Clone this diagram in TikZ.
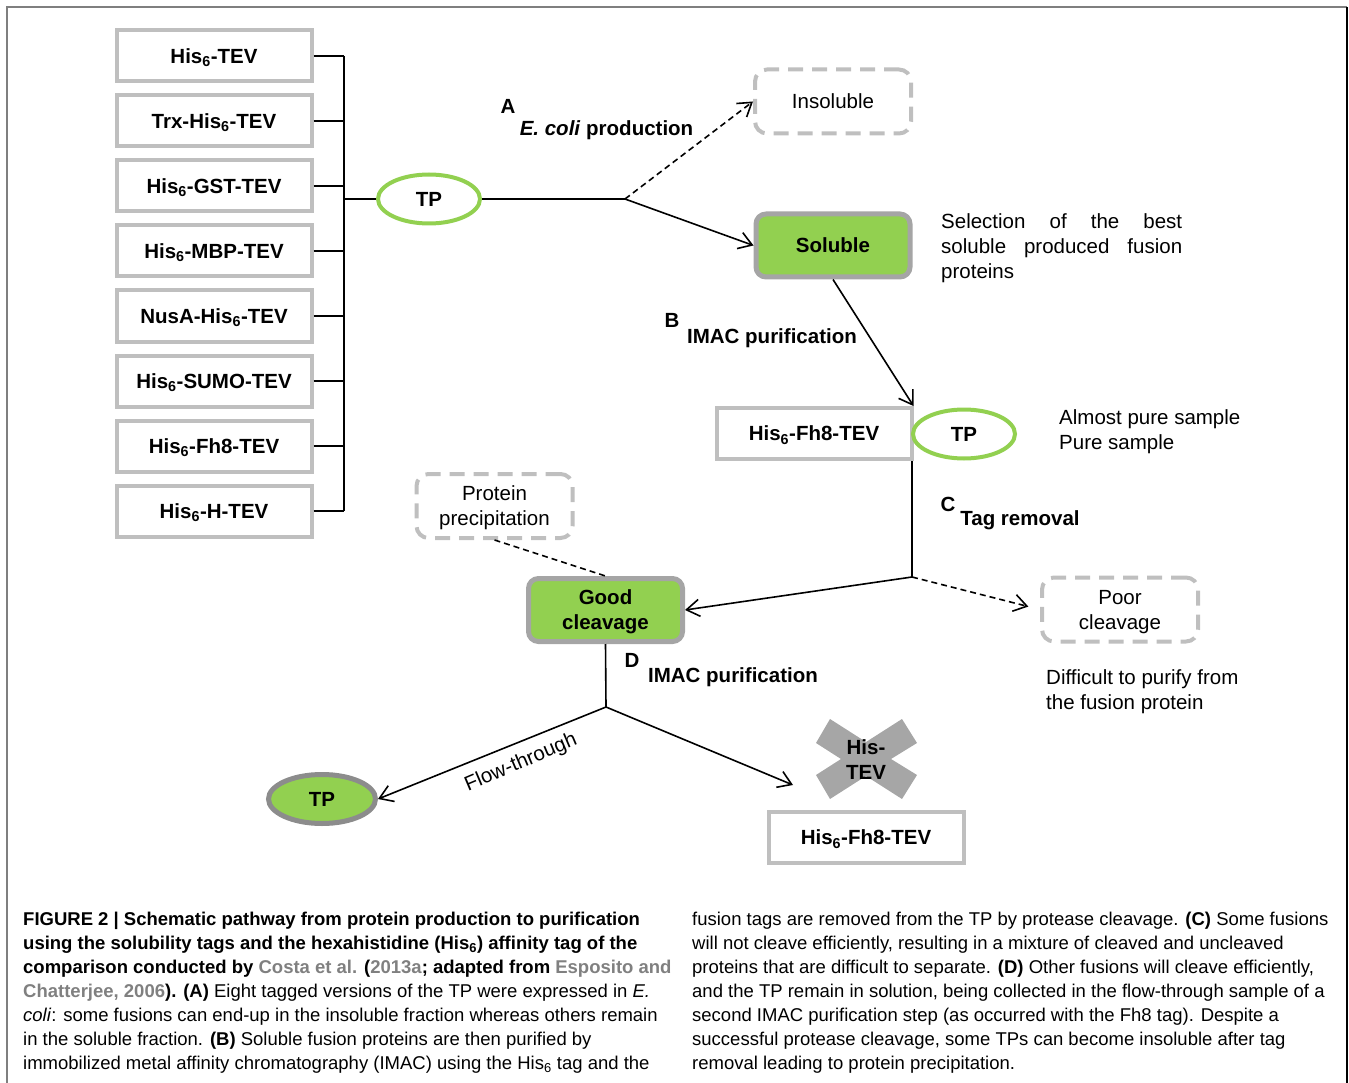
\documentclass[tikz,border=0pt]{standalone}
\usepackage{fontspec}
\setmainfont{Liberation Sans}
\newfontfamily\capfont{Liberation Sans}
\usetikzlibrary{arrows.meta,shapes.geometric}
\definecolor{boxgray}{HTML}{BFBFBF}
\definecolor{dkgray}{HTML}{A5A5A5}
\definecolor{tpgray}{HTML}{8C8C8C}
\definecolor{lgreen}{HTML}{92D050}
\definecolor{capgray}{HTML}{808080}
\definecolor{xgray}{HTML}{A6A6A6}
\definecolor{framegray}{HTML}{7F7F7F}
\tikzset{
  big/.style={font=\fontsize{20.5}{25}\selectfont},
  bigb/.style={font=\fontsize{20.5}{25}\selectfont\bfseries},
  tagbox/.style={draw=boxgray, line width=4pt, minimum width=195pt, minimum height=51pt, inner sep=0pt, text depth=0pt, bigb},
  tpell/.style={ellipse, draw=lgreen, line width=4pt, fill=white, minimum width=102pt, minimum height=49pt, inner sep=0pt, bigb},
  tpfill/.style={ellipse, draw=tpgray, line width=5pt, fill=lgreen, minimum width=107pt, minimum height=49pt, inner sep=0pt, bigb},
  greenbox/.style={rounded corners=10pt, draw=dkgray, fill=lgreen, line width=5pt, minimum width=154pt, minimum height=63pt, inner sep=0pt, align=center, text depth=0pt, bigb},
  dashbox/.style={rounded corners=12pt, draw=boxgray, line width=4pt, dash pattern=on 15pt off 9pt, minimum width=156pt, minimum height=64pt, inner sep=0pt, align=center, text depth=0pt, big},
  conn/.style={line width=1.6pt},
  arr/.style={conn, -{Straight Barb[length=13pt,width=17pt,line width=1.6pt]}},
  dasharr/.style={arr, dash pattern=on 6pt off 4pt},
  lab/.style={inner sep=0pt, bigb},
  txt/.style={inner sep=0pt, big, align=left},
  capline/.style={anchor=base west, inner sep=0pt, font=\capfont\fontsize{18.5}{24}\selectfont},
}
\begin{document}
\begin{tikzpicture}[x=1pt,y=-1pt]
\useasboundingbox (0,0) rectangle (1349,1083);
% frame
\draw[framegray, line width=1.5pt] (7,1083) -- (7,7) -- (1347,7);
\draw[black, line width=1.5pt] (1347,7) -- (1347,1083);

% tag boxes
\node[tagbox] (b1) at (214,56) {His\textsubscript{6}-TEV};
\node[tagbox] (b2) at (214,121) {Trx-His\textsubscript{6}-TEV};
\node[tagbox] (b3) at (214,186) {His\textsubscript{6}-GST-TEV};
\node[tagbox] (b4) at (214,251) {His\textsubscript{6}-MBP-TEV};
\node[tagbox] (b5) at (214,316) {NusA-His\textsubscript{6}-TEV};
\node[tagbox] (b6) at (214,381) {His\textsubscript{6}-SUMO-TEV};
\node[tagbox] (b7) at (214,446) {His\textsubscript{6}-Fh8-TEV};
\node[tagbox] (b8) at (214,511) {His\textsubscript{6}-H-TEV};
\coordinate (bus) at (344,0);
\foreach \i in {1,...,8} {\draw[conn] (b\i.east) -- (b\i.east -| bus);}
\draw[conn] (b1.east -| bus) -- (b8.east -| bus);

% first TP
\node[tpell] (tp1) at (429,199) {TP};
\draw[conn] (tp1.west -| bus) -- (tp1.west);
\coordinate (j1) at (625,199);
\draw[conn] (tp1.east) -- (j1);

\node[dashbox] (ins) at (833,101.5) {Insoluble};
\node[greenbox] (sol) at (833,245.5) {Soluble};
\draw[dasharr] (j1) -- (ins.west);
\draw[arr] (j1) -- (sol.west);
\node[lab] (la) at (508,106) {A};
\node[lab] (lecoli) at (606.5,130) {\textit{E. coli} production};

\node[txt, anchor=north west] (sel) at (941,213) {\hbox to 241pt{Selection\hfill of\hfill the\hfill best}\\\hbox to 241pt{soluble\hfill produced\hfill fusion}\\proteins};

% IMAC B
\node[tagbox] (fh8) at (814,433.5) {His\textsubscript{6}-Fh8-TEV};
\node[tpell] (tp2) at (964,434) {TP};
\draw[arr] (sol.south) -- (fh8.north east);
\node[lab] (lb) at (672,320) {B};
\node[lab] (limac1) at (772,338) {IMAC purification};
\node[txt, anchor=west] (pure) at (1059,431.5) {Almost pure sample\\Pure sample};

% C tag removal
\coordinate (j3) at (912,577);
\draw[conn] (j3 |- fh8.south) -- (j3);
\node[lab] (lc) at (948,504) {C};
\node[lab] (ltag) at (1020,520) {Tag removal};
\node[greenbox] (good) at (605.5,610) {Good\\cleavage};
\node[dashbox] (poor) at (1120,609.5) {Poor\\cleavage};
\draw[arr] (j3) -- (good.east);
\draw[dasharr, shorten >=12pt] (j3) -- (poor.west);
\node[txt, anchor=west] (diff) at (1046,691.5) {Difficult to purify from\\the fusion protein};

\node[dashbox] (prec) at (494.5,506) {Protein\\precipitation};
\draw[conn, dash pattern=on 6pt off 4pt] (prec.south) -- (good.north);

% D
\coordinate (j4) at (606,707);
\draw[conn] (good.south) -- (j4);
\node[lab] (ld) at (632,660) {D};
\node[lab] (limac2) at (733,677) {IMAC purification};
\node[tpfill] (tp3) at (322,799) {TP};
\draw[arr] (j4) -- (tp3.east);
\node[inner sep=0pt, big, rotate=23] (flow) at (521,763) {Flow-through};
\coordinate (xend) at (793,785);
\draw[arr] (j4) -- (xend);

% cross
\fill[xgray] (830,719) -- (866,742) -- (902,719) -- (917,743) -- (891,759) -- (917,775) -- (902,799) -- (866,776) -- (830,799) -- (816,775) -- (841,759) -- (816,743) -- cycle;
\node[inner sep=0pt, bigb, align=center] (xlab) at (866,760) {His-\\TEV};
\node[tagbox] (fh8b) at (866,837.5) {His\textsubscript{6}-Fh8-TEV};

% caption
\node[capline] (c1) at (23,925) {\bfseries FIGURE 2 | Schematic pathway from protein production to purification};
\node[capline] (c2) at (23,949) {\bfseries using the solubility tags and the hexahistidine (His\textsubscript{6}) affinity tag of the};
\node[capline] (c3) at (23,973) {\bfseries comparison conducted by \textcolor{capgray}{Costa et al.} (\textcolor{capgray}{2013a}; adapted from \textcolor{capgray}{Esposito and}};
\node[capline] (c4) at (23,997) {\textbf{\textcolor{capgray}{Chatterjee, 2006}). (A)} Eight tagged versions of the TP were expressed in \textit{E.}};
\node[capline] (c5) at (23,1021) {\textit{coli}: some fusions can end-up in the insoluble fraction whereas others remain};
\node[capline] (c6) at (23,1045) {in the soluble fraction. \textbf{(B)} Soluble fusion proteins are then purified by};
\node[capline] (c7) at (23,1069) {immobilized metal affinity chromatography (IMAC) using the His\textsubscript{6} tag and the};
\node[capline] (d1) at (692,925) {fusion tags are removed from the TP by protease cleavage. \textbf{(C)} Some fusions};
\node[capline] (d2) at (692,949) {will not cleave efficiently, resulting in a mixture of cleaved and uncleaved};
\node[capline] (d3) at (692,973) {proteins that are difficult to separate. \textbf{(D)} Other fusions will cleave efficiently,};
\node[capline] (d4) at (692,997) {and the TP remain in solution, being collected in the flow-through sample of a};
\node[capline] (d5) at (692,1021) {second IMAC purification step (as occurred with the Fh8 tag). Despite a};
\node[capline] (d6) at (692,1045) {successful protease cleavage, some TPs can become insoluble after tag};
\node[capline] (d7) at (692,1069) {removal leading to protein precipitation.};
\end{tikzpicture}
\end{document}
